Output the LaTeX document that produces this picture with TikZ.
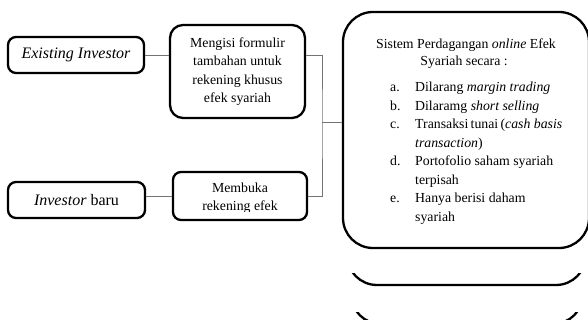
\documentclass[tikz,border=0pt]{standalone}
\usepackage{fontspec}
\setmainfont{Liberation Serif}
\begin{document}
\begin{tikzpicture}[x=1pt,y=-1pt,
  box/.style={draw=black, line width=2.3pt, rounded corners=#1, inner sep=0pt},
  box/.default=8pt,
  link/.style={draw=black!55, line width=0.9pt},
  bigfont/.style={font=\fontsize{16}{19}\selectfont},
  txt/.style={font=\fontsize{13.8}{18.5}\selectfont, align=center}]
\useasboundingbox (0,0) rectangle (588,320);
\clip (0,0) rectangle (588,320);

% left boxes
\node[box, minimum width=136pt, minimum height=36pt, bigfont] (exist) at (76,55) {\textit{Existing Investor}};
\node[box, minimum width=137pt, minimum height=36pt, bigfont] (baru) at (76.5,200) {\textit{Investor} baru};

% middle boxes
\node[box=13pt, minimum width=135pt, minimum height=93pt, txt] (mengisi) at (237.5,71.5)
  {Mengisi formulir\\tambahan untuk\\rekening khusus\\efek syariah};
\node[box, minimum width=134pt, minimum height=48pt] (membuka) at (240,196) {};
\begin{scope}
  \clip (170,170) rectangle (310,211.5);
  \node[txt, anchor=base] (membukatxt) at (240,211) {Membuka\\rekening efek};
\end{scope}

% big box
\node[box=30pt, minimum width=246pt, minimum height=236pt] (big) at (466,130) {};
\node[txt, anchor=base] (t1) at (466,49) {Sistem Perdagangan \textit{online} Efek};
\node[txt, anchor=base] (t2) at (464,66) {Syariah secara :};
\node[anchor=base west, inner sep=0pt, font=\fontsize{13.8}{18.5}\selectfont] (list) at (390,92)
 {\begin{tabular}[t]{@{}p{25pt}@{}l@{}}
  a. & Dilarang \textit{margin trading}\\
  b. & Dilaramg \textit{short selling}\\
  c. & Transaksi\,tunai\,(\textit{cash basis}\\
     & \textit{transaction})\\
  d. & Portofolio saham syariah\\
     & terpisah\\
  e. & Hanya berisi daham\\
     & syariah
 \end{tabular}};

% connectors
\coordinate (j) at (322,122);
\draw[link] (exist.east) -- (exist.east -| mengisi.west);
\draw[link] (baru.east |- membuka.east) -- (membuka.west);
\draw[link] (mengisi.east |- exist.east) -| (j) |- (membuka.east);
\draw[link] (j) -- (j -| big.west);

% clipped lower shapes
\begin{scope}
  \clip (0,273) rectangle (588,320);
  \draw[box=30pt] (347,200) rectangle (586,285);
\end{scope}
\begin{scope}
  \clip (0,312) rectangle (588,330);
  \draw[box=30pt] (351,250) rectangle (583,324);
\end{scope}
\end{tikzpicture}
\end{document}
